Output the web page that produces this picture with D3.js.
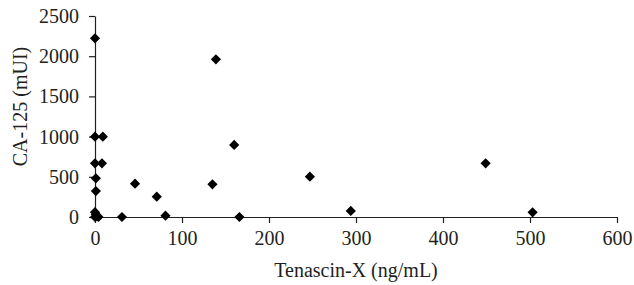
<!DOCTYPE html>
<html>
<head>
<meta charset="utf-8">
<script src="https://cdn.jsdelivr.net/npm/d3@7"></script>
<style>
  body { margin: 0; background: #fff; }
  text { font-family: "Liberation Serif", "DejaVu Serif", serif; fill: #231f20; }
</style>
</head>
<body>
<div id="chart"></div>
<script>
// data
var tenascinX = [0, 139, 0, 9, 0, 8, 1, 1, 46, 71, 81, 31, 135, 160, 247, 294, 166, 449, 503, 0, 1, 2, 4, 0];
var ca125 = [2222, 1961, 999, 999, 668, 668, 481, 323, 414, 253, 16, 0, 406, 896, 501, 75, 0, 668, 58, 60, 30, 10, 0, 0];
var xTicks = [0, 100, 200, 300, 400, 500, 600];
var yTicks = [0, 500, 1000, 1500, 2000, 2500];

var margin = {top: 16, right: 17, bottom: 68, left: 95},
    width = 634 - margin.left - margin.right,
    height = 285 - margin.top - margin.bottom;

var svg = d3.select("#chart")
  .append("svg")
    .attr("width", 634)
    .attr("height", 285)
  .append("g")
    .attr("transform", "translate(" + margin.left + "," + margin.top + ")");

var x = d3.scaleLinear().domain([0, 600]).range([0, width]);
var y = d3.scaleLinear().domain([0, 2500]).range([height, 0]);

// x axis
var xAxis = svg.append("g")
  .attr("transform", "translate(0," + height + ")")
  .call(d3.axisBottom(x).tickValues(xTicks).tickFormat(d3.format("d"))
    .tickSize(6).tickSizeOuter(0).tickPadding(8));
xAxis.selectAll("text").style("font-size", "20px").style("font-family", "Liberation Serif, serif").attr("fill", "#231f20");

// y axis
var yAxis = svg.append("g")
  .call(d3.axisLeft(y).tickValues(yTicks).tickFormat(d3.format("d"))
    .tickSize(6).tickSizeOuter(0).tickPadding(10));
yAxis.selectAll("text").style("font-size", "20px").style("font-family", "Liberation Serif, serif").attr("fill", "#231f20");

svg.selectAll(".domain, .tick line").attr("stroke", "#231f20").attr("stroke-width", 1.2);

// axis titles
svg.append("text")
  .attr("text-anchor", "middle")
  .attr("x", width / 2)
  .attr("y", height + 60)
  .style("font-size", "20px")
  .text("Tenascin-X (ng/mL)");

svg.append("text")
  .attr("text-anchor", "middle")
  .attr("transform", "translate(" + (-68.5) + "," + (height / 2 - 10) + ") rotate(-90)")
  .style("font-size", "20px")
  .text("CA-125 (mUI)");

// diamonds
var points = tenascinX.map(function(d, i) { return {x: d, y: ca125[i]}; });
svg.selectAll(".pt")
  .data(points)
  .enter()
  .append("path")
    .attr("class", "pt")
    .attr("d", d3.symbol().type(d3.symbolSquare).size(52))
    .attr("transform", function(d) { return "translate(" + x(d.x) + "," + y(d.y) + ") rotate(45)"; })
    .attr("fill", "#000");
</script>
</body>
</html>
